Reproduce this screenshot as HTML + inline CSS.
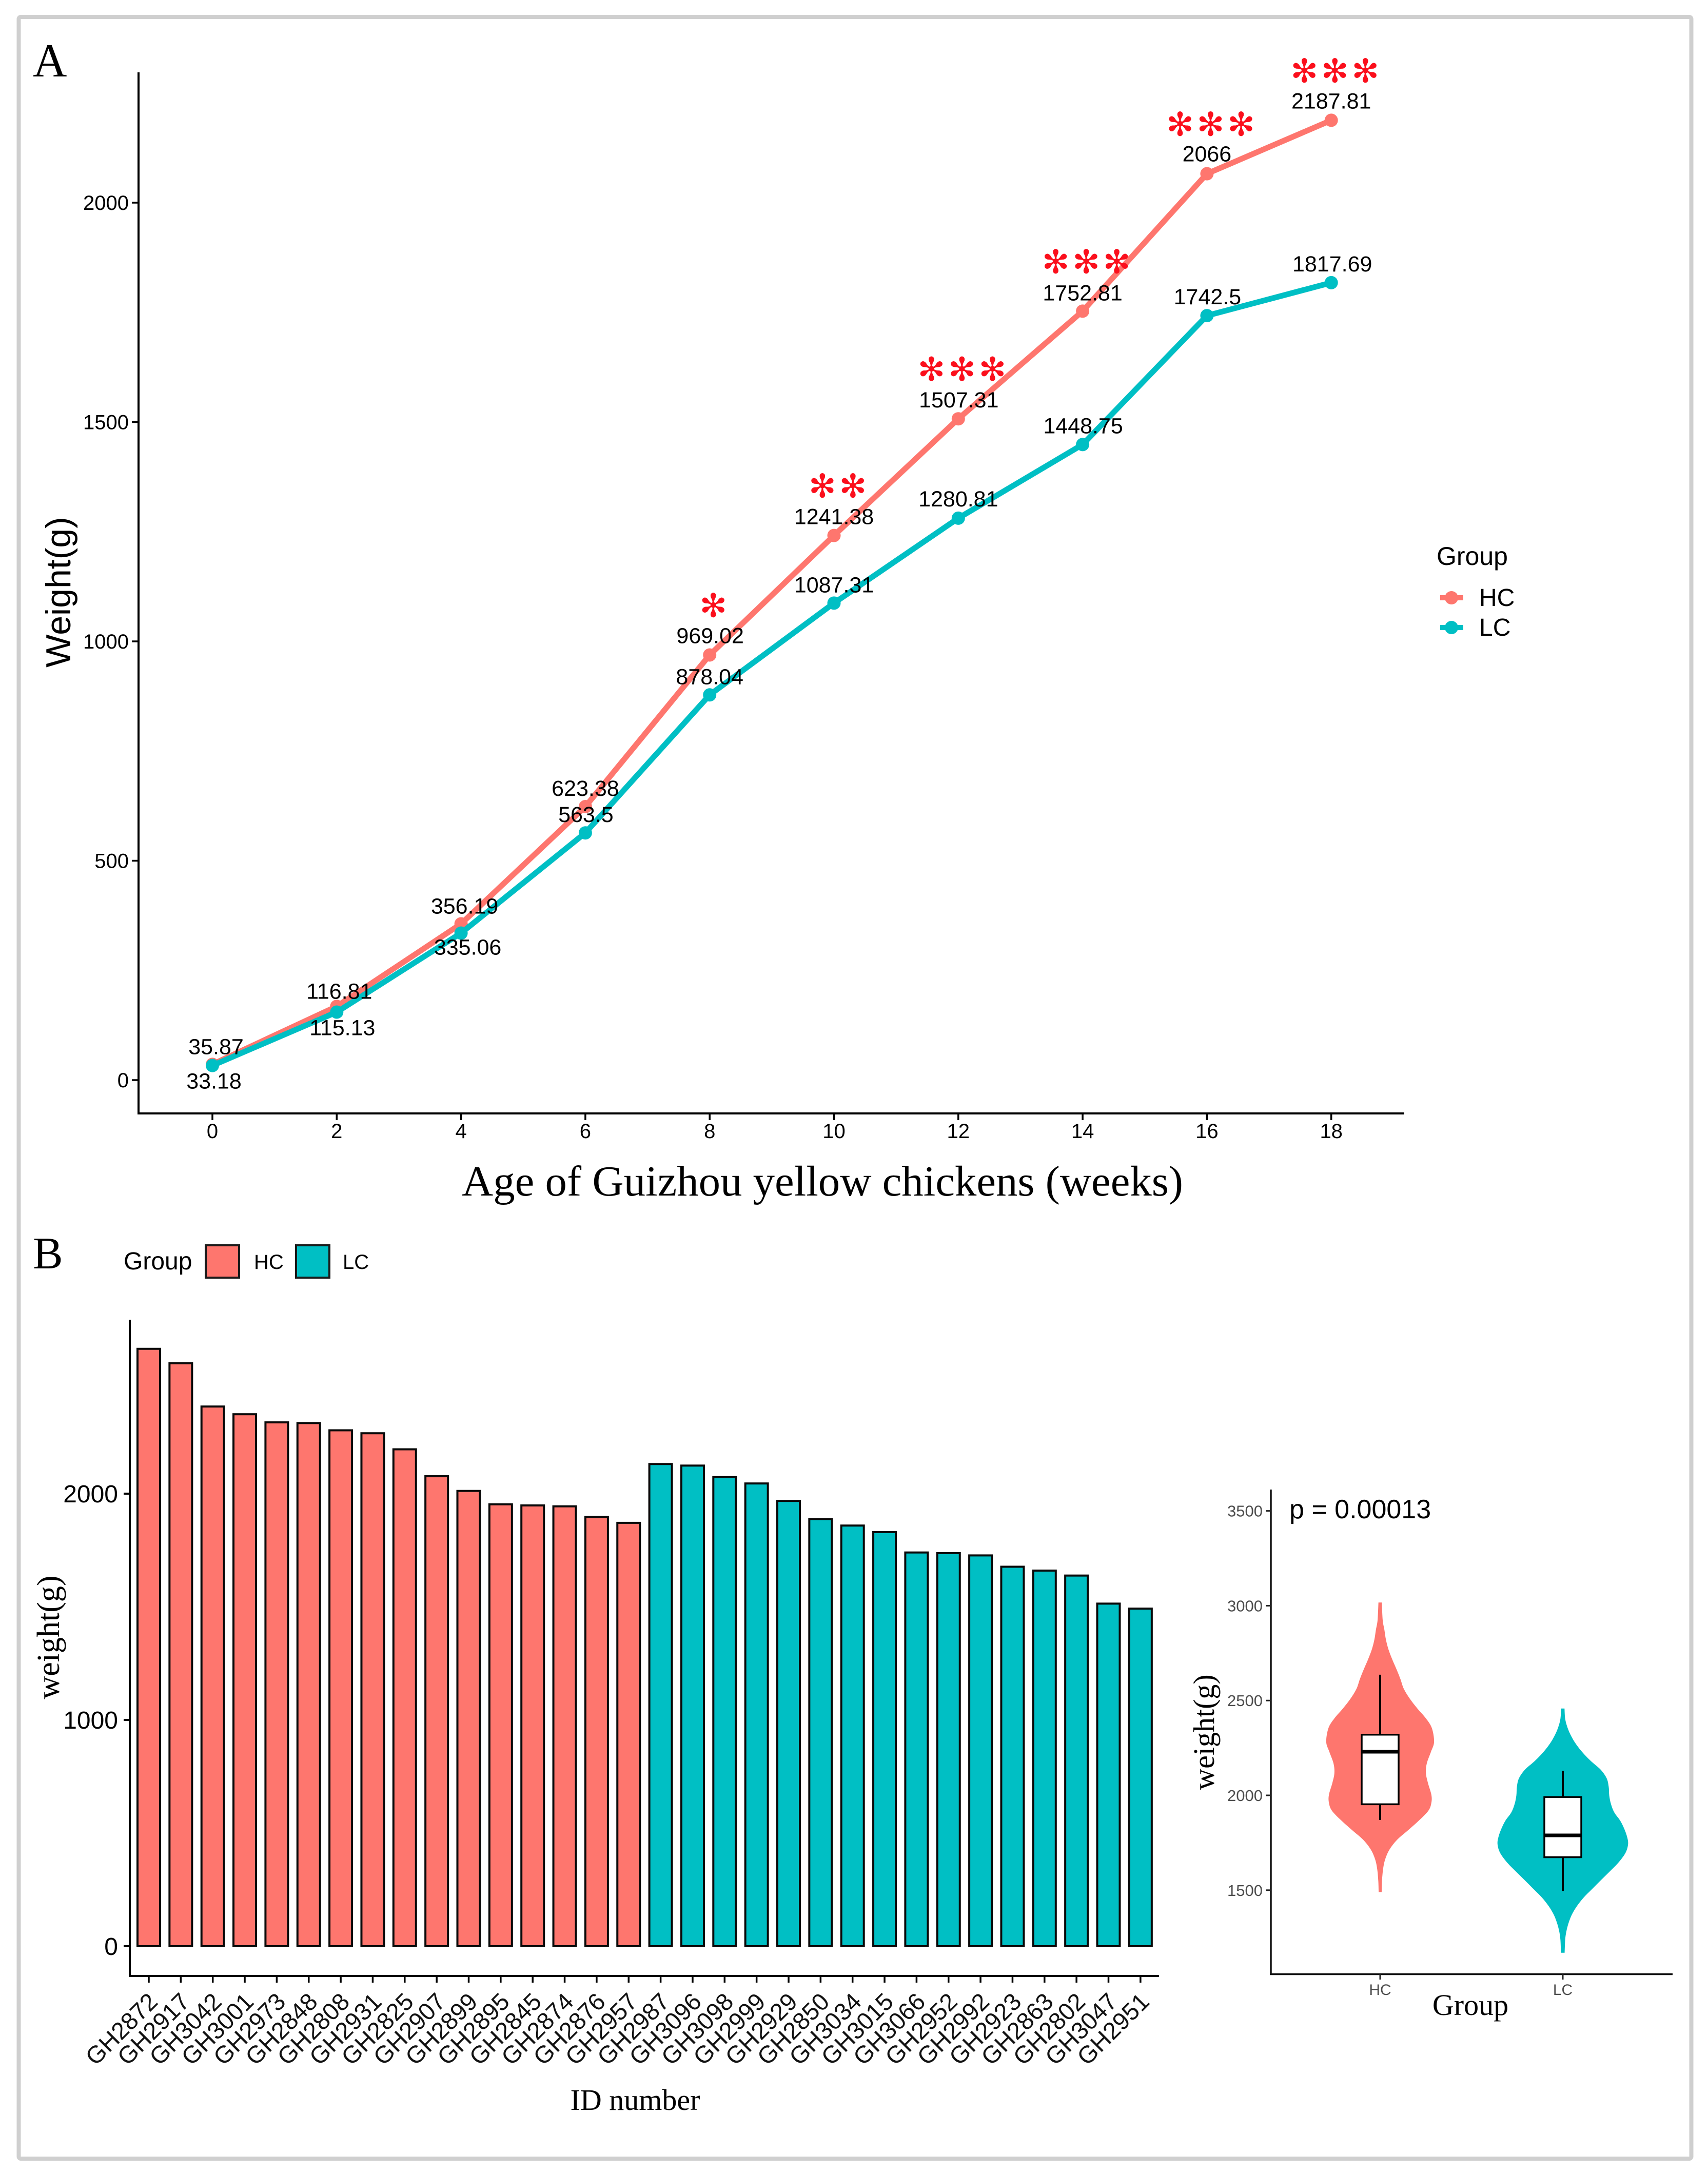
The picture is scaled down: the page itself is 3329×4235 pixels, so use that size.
<!DOCTYPE html>
<html lang="en">
<head>
<meta charset="utf-8">
<title>Guizhou yellow chicken body weight charts</title>
<style>
html,body{margin:0;padding:0;background:#fff}
svg{display:block}
.sans{font-family:"Liberation Sans",Arial,sans-serif}
.serif{font-family:"Liberation Serif","Times New Roman",serif}
.star{font-family:"DejaVu Sans",sans-serif;fill:#fb0f1c}
</style>
</head>
<body>
<svg id="fig" xmlns="http://www.w3.org/2000/svg" width="3329" height="4235" viewBox="0 0 3329 4235">
  <rect x="0" y="0" width="3329" height="4235" fill="#ffffff"/>
  <rect x="36.5" y="33" width="3260" height="4174" rx="4" fill="#ffffff" stroke="#cfcfcf" stroke-width="8"/>

  <text class="serif" x="64" y="149" font-size="92">A</text>
  <text class="serif" x="64" y="2472" font-size="88">B</text>

  <g id="lineChart"></g>
  <text class="sans" transform="translate(137,1154) rotate(-90)" text-anchor="middle" font-size="68">Weight(g)</text>
  <text class="serif" x="1603" y="2330" text-anchor="middle" font-size="84" textLength="1406" lengthAdjust="spacingAndGlyphs">Age of Guizhou yellow chickens (weeks)</text>

  <g>
    <text class="sans" x="2800" y="1101" font-size="50">Group</text>
    <line x1="2807" x2="2852" y1="1165" y2="1165" stroke="#fe766e" stroke-width="10"/>
    <circle cx="2829" cy="1165" r="13" fill="#fe766e"/>
    <text class="sans" x="2883" y="1181" font-size="48">HC</text>
    <line x1="2807" x2="2852" y1="1223" y2="1223" stroke="#00bfc4" stroke-width="10"/>
    <circle cx="2829" cy="1223" r="13" fill="#00bfc4"/>
    <text class="sans" x="2883" y="1239" font-size="48">LC</text>
  </g>

  <g>
    <text class="sans" x="241" y="2474" font-size="48">Group</text>
    <rect x="401" y="2427" width="65" height="63" fill="#fe766e" stroke="#1a1a1a" stroke-width="4"/>
    <text class="sans" x="495" y="2473" font-size="40">HC</text>
    <rect x="577" y="2427" width="65" height="63" fill="#00bfc4" stroke="#1a1a1a" stroke-width="4"/>
    <text class="sans" x="668" y="2473" font-size="40">LC</text>
  </g>

  <g id="barChart"></g>
  <text class="serif" transform="translate(115,3191) rotate(-90)" text-anchor="middle" font-size="62">weight(g)</text>
  <text class="serif" x="1238" y="4112" text-anchor="middle" font-size="58">ID number</text>

  <g id="violinChart"></g>
  <text class="serif" transform="translate(2366,3376) rotate(-90)" text-anchor="middle" font-size="58">weight(g)</text>
  <text class="serif" x="2866" y="3927" text-anchor="middle" font-size="58">Group</text>
  <text class="sans" x="2513" y="2959" font-size="52">p = 0.00013</text>
</svg>

<script>
// ---------- Panel A data ----------
const weeks = [0, 2, 4, 6, 8, 10, 12, 14, 16, 18];
const hcWeights = [35.87, 168, 356.19, 623.38, 969.02, 1241.38, 1507.31, 1752.81, 2066, 2187.81];
const lcWeights = [33.18, 155, 335.06, 563.5, 878.04, 1087.31, 1280.81, 1448.75, 1742.5, 1817.69];
const hcLabels = ['35.87', '116.81', '356.19', '623.38', '969.02', '1241.38', '1507.31', '1752.81', '2066', '2187.81'];
const lcLabels = ['33.18', '115.13', '335.06', '563.5', '878.04', '1087.31', '1280.81', '1448.75', '1742.5', '1817.69'];
const significanceStars = [0, 0, 0, 0, 1, 2, 3, 3, 3, 3];
const lineYTicks = [0, 500, 1000, 1500, 2000];
const lineXTicks = [0, 2, 4, 6, 8, 10, 12, 14, 16, 18];

// ---------- Panel B data ----------
const birdIds = ['GH2872','GH2917','GH3042','GH3001','GH2973','GH2848','GH2808','GH2931','GH2825','GH2907','GH2899','GH2895','GH2845','GH2874','GH2876','GH2957','GH2987','GH3096','GH3098','GH2999','GH2929','GH2850','GH3034','GH3015','GH3066','GH2952','GH2992','GH2923','GH2863','GH2802','GH3047','GH2951'];
const birdWeights = [2640,2576,2385,2351,2315,2312,2280,2267,2196,2077,2012,1953,1948,1944,1897,1871,2131,2124,2073,2045,1968,1888,1859,1830,1740,1737,1727,1677,1660,1638,1514,1492];
const birdGroups = ['HC','HC','HC','HC','HC','HC','HC','HC','HC','HC','HC','HC','HC','HC','HC','HC','LC','LC','LC','LC','LC','LC','LC','LC','LC','LC','LC','LC','LC','LC','LC','LC'];
const barYTicks = [0, 1000, 2000];

// ---------- Panel B violin data ----------
const violinYTicks = [1500, 2000, 2500, 3000, 3500];
const violinGroups = ['HC', 'LC'];
const hcViolinWeight = [3017,2924,2872,2821,2769,2717,2665,2614,2562,2510,2458,2406,2355,2282,2230,2168,2117,2065,2003,1961,1920,1868,1816,1765,1713,1661,1609,1547,1490];
const hcViolinDensity = [0.026,0.039,0.065,0.088,0.127,0.184,0.249,0.308,0.360,0.451,0.567,0.697,0.787,0.821,0.774,0.710,0.697,0.728,0.780,0.780,0.736,0.593,0.425,0.256,0.140,0.075,0.044,0.028,0.023];
const lcViolinWeight = [2458,2404,2359,2314,2269,2224,2180,2135,2090,2045,2000,1955,1910,1866,1821,1776,1740,1695,1641,1596,1552,1507,1462,1417,1372,1327,1282,1237,1170];
const lcViolinDensity = [0.026,0.036,0.070,0.126,0.204,0.307,0.431,0.578,0.668,0.699,0.707,0.733,0.784,0.875,0.939,0.983,0.993,0.952,0.836,0.707,0.578,0.449,0.320,0.217,0.139,0.088,0.054,0.036,0.028];
const hcBoxStats = [1870, 1953, 2230, 2320, 2636];
const lcBoxStats = [1496, 1674, 1789, 1991, 2130];

// ---------- Layout (not data) ----------
const COL = { HC: '#fe766e', LC: '#00bfc4' };
const hcLabelNudge = [[7,-35],[5,-30],[7,-35],[0,-36],[1,-38],[0,-37],[1,-37],[0,-36],[0,-39],[0,-38]];
const lcLabelNudge = [[3,30],[11,30],[13,27],[1,-36],[0,-36],[0,-36],[0,-38],[1,-37],[1,-37],[2,-37]];

const NS = 'http://www.w3.org/2000/svg';
function mk(parent, tag, attrs, txt) {
  const el = document.createElementNS(NS, tag);
  for (const k in attrs) el.setAttribute(k, attrs[k]);
  if (txt !== undefined) el.textContent = txt;
  parent.appendChild(el);
  return el;
}

// ---------- Line chart ----------
(function () {
  const g = document.getElementById('lineChart');
  const x = w => 414 + w * 121.15;
  const y = v => 2105 - v * 0.855;

  const yAxis = mk(g, 'line', { x1: 270, x2: 270, y1: 141, y2: 2171, stroke: '#000', 'stroke-width': 4 });
  
  
  const xAxis = mk(g, 'line', { x1: 268, x2: 2737, y1: 2170, y2: 2170, stroke: '#000', 'stroke-width': 4 });
  
  

  lineYTicks.forEach(t => {
    const tick = mk(g, 'line', { x1: 257, x2: 270, y1: y(t), y2: y(t), stroke: '#000', 'stroke-width': 3.5 });
    
    
    const lab = mk(g, 'text', { x: 251, y: y(t) + 14, 'text-anchor': 'end', 'font-size': 40, class: 'sans' }, String(t));
    
    
  });
  lineXTicks.forEach(t => {
    const tick = mk(g, 'line', { x1: x(t), x2: x(t), y1: 2170, y2: 2183, stroke: '#000', 'stroke-width': 3.5 });
    
    
    const lab = mk(g, 'text', { x: x(t), y: 2218, 'text-anchor': 'middle', 'font-size': 40, class: 'sans' }, String(t));
    
    
  });

  [['HC', hcWeights], ['LC', lcWeights]].forEach(([grp, vals]) => {
    const pl = mk(g, 'polyline', {
      points: vals.map((v, i) => x(weeks[i]) + ',' + y(v)).join(' '),
      fill: 'none', stroke: COL[grp], 'stroke-width': 11, 'stroke-linejoin': 'round'
    });
    
    
    vals.forEach((v, i) => {
      const c = mk(g, 'circle', { cx: x(weeks[i]), cy: y(v), r: 13, fill: COL[grp] });
      
      
    });
  });

  [[hcLabels, hcWeights, hcLabelNudge, 'hc'], [lcLabels, lcWeights, lcLabelNudge, 'lc']].forEach(([labs, vals, nudge, nm]) => {
    labs.forEach((s, i) => {
      const t = mk(g, 'text', {
        x: x(weeks[i]) + nudge[i][0], y: y(vals[i]) + nudge[i][1] + 15,
        'text-anchor': 'middle', 'font-size': 43, class: 'sans'
      }, s);
      
      
    });
  });

  significanceStars.forEach((n, i) => {
    for (let k = 0; k < n; k++) {
      const cx = x(weeks[i]) + 7 + (k - (n - 1) / 2) * 59.5;
      const st = mk(g, 'text', {
        x: cx, y: y(hcWeights[i]) - 97 + 23, 'text-anchor': 'middle', 'font-size': 64, class: 'star'
      }, '\u273B');
      
      
    }
  });
})();

// ---------- Bar chart ----------
(function () {
  const g = document.getElementById('barChart');
  const x = i => 290 + i * 62.35;
  const y = v => 3793 - v * 0.441;

  const yAxis = mk(g, 'line', { x1: 253, x2: 253, y1: 2572, y2: 3853, stroke: '#000', 'stroke-width': 4 });
  
  
  const xAxis = mk(g, 'line', { x1: 251, x2: 2259, y1: 3851, y2: 3851, stroke: '#000', 'stroke-width': 4 });
  
  

  barYTicks.forEach(t => {
    const tick = mk(g, 'line', { x1: 241, x2: 253, y1: y(t), y2: y(t), stroke: '#000', 'stroke-width': 4 });
    
    
    const lab = mk(g, 'text', { x: 230, y: y(t) + 17, 'text-anchor': 'end', 'font-size': 48, class: 'sans' }, String(t));
    
    
  });

  birdIds.forEach((id, i) => {
    const v = birdWeights[i];
    const bar = mk(g, 'rect', {
      x: x(i) - 22, y: y(v), width: 44, height: y(0) - y(v),
      fill: COL[birdGroups[i]], stroke: '#0a0a0a', 'stroke-width': 4
    });
    
    
    const tick = mk(g, 'line', { x1: x(i), x2: x(i), y1: 3851, y2: 3864, stroke: '#000', 'stroke-width': 3.5 });
    
    
    const lab = mk(g, 'text', {
      transform: 'translate(' + (x(i) + 20) + ',3904) rotate(-45)',
      'text-anchor': 'end', 'font-size': 47, class: 'sans', fill: '#111'
    }, id);
    
    
  });
})();

// ---------- Violin chart ----------
(function () {
  const g = document.getElementById('violinChart');
  const xc = { HC: 2690, LC: 3046 };
  const y = v => 3499 - (v - 2000) * 0.3696;
  const wScale = 128;

  const yAxis = mk(g, 'line', { x1: 2477, x2: 2477, y1: 2903, y2: 3849, stroke: '#111', 'stroke-width': 3.5 });
  
  
  const xAxis = mk(g, 'line', { x1: 2475, x2: 3260, y1: 3847.5, y2: 3847.5, stroke: '#111', 'stroke-width': 3.5 });
  
  

  violinYTicks.forEach(t => {
    const tick = mk(g, 'line', { x1: 2467, x2: 2477, y1: y(t), y2: y(t), stroke: '#222', 'stroke-width': 3 });
    
    
    const lab = mk(g, 'text', { x: 2461, y: y(t) + 11, 'text-anchor': 'end', 'font-size': 31, class: 'sans', fill: '#4d4d4d' }, String(t));
    
    
  });
  violinGroups.forEach(grp => {
    const tick = mk(g, 'line', { x1: xc[grp], x2: xc[grp], y1: 3847.5, y2: 3858, stroke: '#222', 'stroke-width': 3 });
    
    
    const lab = mk(g, 'text', { x: xc[grp], y: 3888, 'text-anchor': 'middle', 'font-size': 30, class: 'sans', fill: '#4d4d4d' }, grp);
    
    
  });

  function curve(pts) {
    let d = '';
    for (let i = 0; i < pts.length - 1; i++) {
      const p0 = pts[i - 1] || pts[i], p1 = pts[i], p2 = pts[i + 1], p3 = pts[i + 2] || p2;
      d += ' C' + (p1[0] + (p2[0] - p0[0]) / 6) + ',' + (p1[1] + (p2[1] - p0[1]) / 6) + ' ' +
           (p2[0] - (p3[0] - p1[0]) / 6) + ',' + (p2[1] - (p3[1] - p1[1]) / 6) + ' ' + p2[0] + ',' + p2[1];
    }
    return d;
  }

  [['HC', hcViolinWeight, hcViolinDensity, hcBoxStats], ['LC', lcViolinWeight, lcViolinDensity, lcBoxStats]].forEach(([grp, ws, ds, box]) => {
    const cx = xc[grp];
    const right = ws.map((w, i) => [cx + ds[i] * wScale, y(w)]);
    const left = ws.map((w, i) => [cx - ds[i] * wScale, y(w)]).reverse();
    const d = 'M' + right[0][0] + ',' + right[0][1] + curve(right) +
              ' L' + left[0][0] + ',' + left[0][1] + curve(left) + ' Z';
    const v = mk(g, 'path', { d: d, fill: COL[grp] });
    
    

    const wh = mk(g, 'line', { x1: cx, x2: cx, y1: y(box[4]), y2: y(box[0]), stroke: '#000', 'stroke-width': 4 });
    
    
    const rect = mk(g, 'rect', {
      x: cx - 36, y: y(box[3]), width: 72, height: y(box[1]) - y(box[3]),
      fill: '#fff', stroke: '#000', 'stroke-width': 3.5
    });
    
    
    const med = mk(g, 'line', { x1: cx - 36, x2: cx + 36, y1: y(box[2]), y2: y(box[2]), stroke: '#000', 'stroke-width': 7 });
    
    
  });
})();
</script>
</body>
</html>
